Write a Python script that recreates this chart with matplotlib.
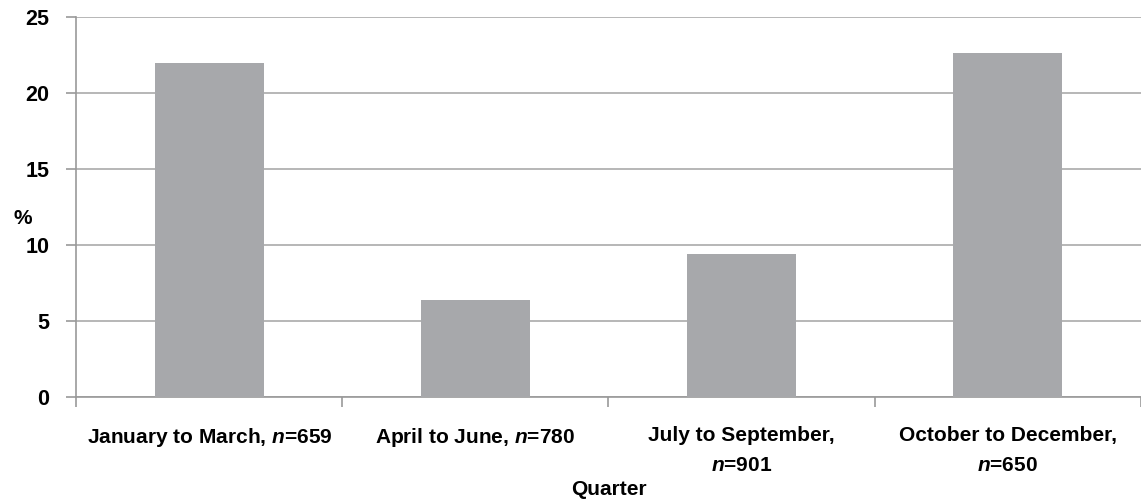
import matplotlib.pyplot as plt
import numpy as np

plt.rcParams['font.family'] = ['Liberation Sans', 'DejaVu Sans']
plt.rcParams['mathtext.fontset'] = 'custom'
plt.rcParams['mathtext.bfit'] = 'Liberation Sans:bold:italic'
plt.rcParams['mathtext.rm'] = 'Liberation Sans:bold'

# Datos
quarters = ["January to March, $\\mathbfit{n}$=659",
            "April to June, $\\mathbfit{n}$=780",
            "July to September,\n$\\mathbfit{n}$=901",
            "October to December,\n$\\mathbfit{n}$=650"]
percent = [22.0, 6.4, 9.4, 22.6]
y_ticks = [0, 5, 10, 15, 20, 25]

fig = plt.figure(figsize=(11.41, 5), dpi=100)
ax = fig.add_axes([0.0666, 0.206, 0.9334, 0.760])

x = np.arange(len(quarters))
ax.bar(x, percent, width=0.41, color="#a7a8ab", zorder=3)

ax.set_xlim(-0.5, len(quarters) - 0.5)
ax.set_ylim(0, 25)
ax.set_yticks(y_ticks)
ax.yaxis.grid(True, color="#aaaaaa", linewidth=1.2, zorder=0)

# Ejes
for side in ["top", "right"]:
    ax.spines[side].set_visible(False)
for side in ["left", "bottom"]:
    ax.spines[side].set_color("#999999")
    ax.spines[side].set_linewidth(1.2)

ax.set_xticks(x)
ax.set_xticklabels(quarters, fontsize=15, fontweight="bold", linespacing=1.75, va="top")
ax.set_xticks(np.arange(len(quarters) + 1) - 0.5, minor=True)
ax.tick_params(axis="x", which="major", length=0, pad=21)
ax.tick_params(axis="x", which="minor", length=7, color="#999999", width=1.2)
ax.tick_params(axis="y", length=7, color="#999999", width=1.2, labelsize=15.5, pad=12)
for lbl in ax.get_yticklabels():
    lbl.set_fontweight("bold")

ax.set_xlabel("Quarter", fontsize=15, fontweight="bold", labelpad=3)
fig.text(0.02, 0.564, "%", fontsize=15, fontweight="bold", ha="center", va="center")

plt.savefig("out.png", dpi=100)
plt.close()
